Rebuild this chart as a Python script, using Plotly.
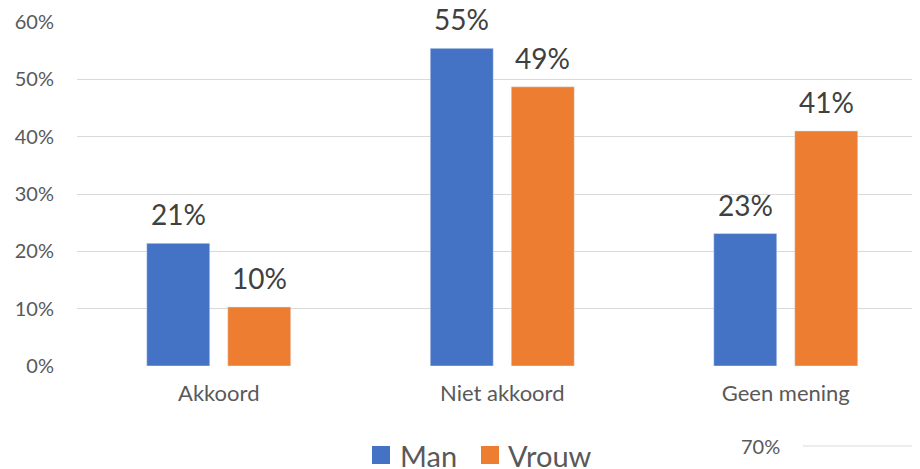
import plotly.graph_objects as go

categories = ["Akkoord", "Niet akkoord", "Geen mening"]
man = [0.214, 0.554, 0.231]
vrouw = [0.103, 0.487, 0.410]
y_ticks = [0, 0.1, 0.2, 0.3, 0.4, 0.5, 0.6]
y_tick_labels = ["0%", "10%", "20%", "30%", "40%", "50%", "60%"]
series_names = ["Man", "Vrouw"]

FONT = "Lato, 'Open Sans', sans-serif"
BLUE = "#4472C4"
ORANGE = "#ED7D31"
TXT = "#595959"

# the page body adds an 8px offset; work in reference pixels and subtract it
OFF = 8
FW, FH = 920 - OFF, 469 - OFF
L, R, T, B = 77 - OFF, 920 - OFF, 22 - OFF, 366 - OFF
W, H = R - L, B - T
CAT_PX = 283.5  # pixel width of one category slot


def px(x):
    return (x - OFF - L) / W


def py(y):
    return (B - (y - OFF)) / H


fig = go.Figure()
for name, vals, col in ((series_names[0], man, BLUE), (series_names[1], vrouw, ORANGE)):
    fig.add_trace(go.Bar(name=name, x=categories, y=vals, marker_color=col,
                         textposition="none", showlegend=False))

# value labels above bars
for vals, shift in ((man, -40.5), (vrouw, 40.5)):
    for c, v in zip(categories, vals):
        fig.add_annotation(x=c, y=v, xref="x", yref="y", text=f"{v:.0%}",
                           showarrow=False, xshift=shift, yanchor="bottom", yshift=10,
                           font=dict(family=FONT, size=28, color="#404040"))

# stray 70% label and gridline fragment
fig.add_annotation(x=px(760), y=py(446), xref="paper", yref="paper", text="70%",
                   showarrow=False, xanchor="center", yanchor="middle",
                   font=dict(family=FONT, size=20, color=TXT))
fig.add_shape(type="line", xref="paper", yref="paper",
              x0=px(803), x1=1.0, y0=py(446), y1=py(446),
              line=dict(color="#d9d9d9", width=1))

# manual legend
for name, col, sx, tx in ((series_names[0], BLUE, 372, 398), (series_names[1], ORANGE, 481, 506)):
    fig.add_shape(type="rect", xref="paper", yref="paper",
                  x0=px(sx), x1=px(sx + 18), y0=py(464), y1=py(446),
                  fillcolor=col, line=dict(width=0))
    fig.add_annotation(x=px(tx), y=py(455), xref="paper", yref="paper", text=name,
                       showarrow=False, xanchor="left", yanchor="middle",
                       font=dict(family=FONT, size=29, color=TXT))

fig.update_layout(
    width=FW, height=FH,
    margin=dict(l=L, r=FW - R, t=T, b=FH - B),
    paper_bgcolor="white", plot_bgcolor="white",
    barmode="group", bargap=0.4286, bargroupgap=0.222,
    font=dict(family=FONT, color=TXT),
    xaxis=dict(showgrid=False, showline=False, ticks="", automargin=False,
               range=[-0.5, -0.5 + W / CAT_PX],
               ticklabelstandoff=12, tickfont=dict(size=22, color=TXT)),
    yaxis=dict(range=[0, 0.6], tickvals=y_ticks, ticktext=y_tick_labels,
               showgrid=True, gridcolor="#d9d9d9", gridwidth=1, zeroline=False,
               showline=False, ticks="", ticklabelstandoff=22, automargin=False,
               tickfont=dict(size=20, color=TXT)),
    showlegend=False,
)

fig.write_html("out.html")
